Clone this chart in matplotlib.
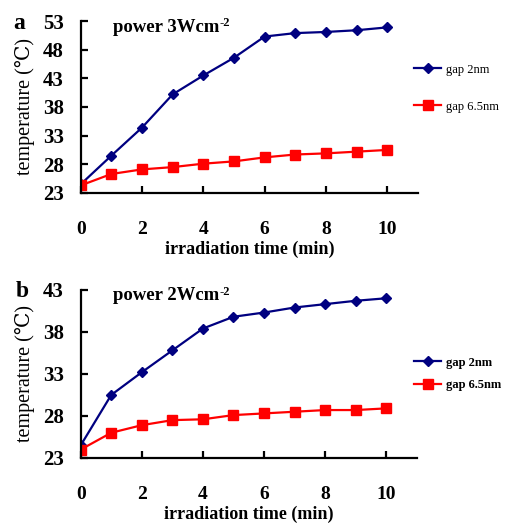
import matplotlib
matplotlib.use("Agg")
import matplotlib.pyplot as plt

plt.rcParams["font.family"] = ["Liberation Serif", "DejaVu Serif"]

time_min = [0, 1, 2, 3, 4, 5, 6, 7, 8, 9, 10]

a_gap2 = [24.5, 29.5, 34.4, 40.2, 43.5, 46.6, 50.3, 50.9, 51.1, 51.4, 51.9]
a_gap65 = [24.3, 26.3, 27.1, 27.5, 28.1, 28.5, 29.2, 29.7, 29.9, 30.2, 30.5]

b_gap2 = [24.5, 30.5, 33.2, 35.8, 38.4, 39.8, 40.3, 40.9, 41.3, 41.7, 42.0]
b_gap65 = [24.0, 26.0, 26.9, 27.5, 27.6, 28.1, 28.3, 28.5, 28.7, 28.7, 28.9]

a_yticks = [23, 28, 33, 38, 43, 48, 53]
b_yticks = [23, 28, 33, 38, 43]
xticks = [0, 2, 4, 6, 8, 10]

BLUE = "#000080"
RED = "#ff0000"

fig = plt.figure(figsize=(5.14, 5.27), dpi=100)
ax_a = fig.add_axes([0.157, 0.634, 0.656, 0.326])
ax_b = fig.add_axes([0.157, 0.131, 0.654, 0.319])


def style_axis(ax, y2, y65, yticks, title, legend_anchor, spacing, legend_weight):
    l1, = ax.plot(time_min, y2, color=BLUE, lw=1.6, marker="D", ms=5.5, label="gap 2nm")
    l2, = ax.plot(time_min, y65, color=RED, lw=1.6, marker="s", ms=7, label="gap 6.5nm")
    ax.set_xlim(0, 11)
    ax.set_ylim(yticks[0], yticks[-1])
    ax.set_xticks(xticks)
    ax.set_yticks(yticks)
    for s in ["top", "right"]:
        ax.spines[s].set_visible(False)
    for s in ["left", "bottom"]:
        ax.spines[s].set_linewidth(1.6)
    ax.tick_params(direction="in", length=5, width=1.6)
    ax.tick_params(axis="x", pad=20, labelsize=14)
    ax.tick_params(axis="y", pad=12, labelsize=15)
    for lab in ax.get_xticklabels() + ax.get_yticklabels():
        lab.set_fontweight("bold")
    ax.set_xlabel("irradiation time (min)", fontsize=13, fontweight="bold", labelpad=2)
    ax.set_ylabel("temperature (\u2103)", fontsize=14.5, labelpad=6)
    t = ax.text(0.095, 1.015, title, transform=ax.transAxes, fontsize=13.5,
                fontweight="bold", va="top", ha="left")
    ax.annotate("-2", xy=(1.0, 1.0), xycoords=t, xytext=(0.5, 1),
                textcoords="offset points", fontsize=9, fontweight="bold",
                va="top", ha="left")
    fig.legend(handles=[l1, l2], loc="upper left", bbox_to_anchor=legend_anchor,
               frameon=False, borderpad=0, borderaxespad=0,
               handlelength=2.2, handletextpad=0.4, labelspacing=spacing,
               prop={"weight": legend_weight, "size": 9})


style_axis(ax_a, a_gap2, a_gap65, a_yticks, "power 3Wcm",
           (0.805, 0.879), 2.0, "normal")
style_axis(ax_b, b_gap2, b_gap65, b_yticks, "power 2Wcm",
           (0.805, 0.323), 0.85, "bold")

fig.text(0.025, 0.956, "a", fontsize=17, fontweight="bold", va="center")
fig.text(0.03, 0.446, "b", fontsize=17, fontweight="bold", va="center")

fig.savefig("out.png", dpi=100)
